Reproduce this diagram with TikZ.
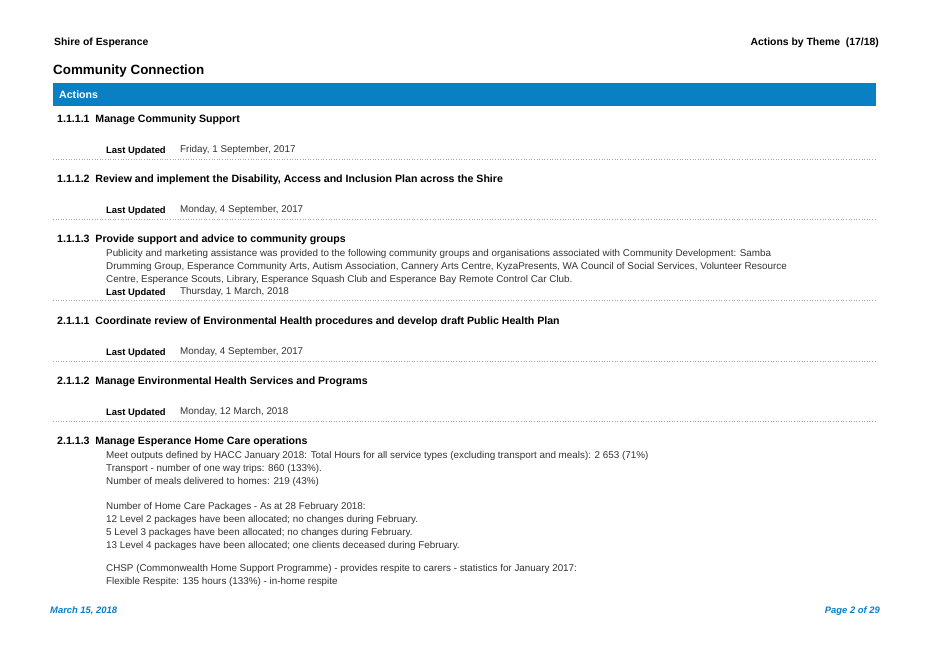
\documentclass[tikz,border=0pt]{standalone}
\usepackage{fontspec}
\setmainfont{Liberation Sans}
\definecolor{barblue}{HTML}{0A80C4}
\definecolor{txt}{HTML}{333333}
\begin{document}
\begin{tikzpicture}[x=1pt,y=-1pt,
  lbl/.style={anchor=base west,inner sep=0pt,font=\fontsize{10.6}{12}\selectfont\bfseries},
  body/.style={anchor=base west,inner sep=0pt,font=\fontsize{9.85}{11}\selectfont,text=txt},
  upd/.style={anchor=base west,inner sep=0pt,font=\fontsize{9.4}{10}\selectfont\bfseries},
  sep/.style={draw=gray!70,line width=0.6pt,dotted},
  foot/.style={inner sep=0pt,font=\fontsize{9.4}{10}\selectfont\bfseries\itshape,text=barblue}]
\useasboundingbox (0,0) rectangle (928,657);
\fill[white] (0,0) rectangle (928,657);
\node[lbl,font=\fontsize{10.4}{12}\selectfont\bfseries] (h1) at (54,45) {Shire of Esperance};
\node[lbl,anchor=base east,font=\fontsize{10.4}{12}\selectfont\bfseries] (h2) at (879,45) {Actions by Theme \ (17/18)};
\node[anchor=base west,inner sep=0pt,font=\fontsize{13.4}{15}\selectfont\bfseries] (ttl) at (53,74) {Community Connection};
\fill[barblue] (53,83) rectangle (876,106);
\node[lbl,text=white] (act) at (59,98) {Actions};
% items
\node[lbl] (a1) at (57,122) {1.1.1.1\ \ Manage Community Support};
\node[upd] (u1) at (106,153) {Last Updated};
\node[body] (d1) at (180,152) {Friday, 1 September, 2017};
\draw[sep] (53,159) -- (876,159);
\node[lbl] (a2) at (57,182) {1.1.1.2\ \ Review and implement the Disability, Access and Inclusion Plan across the Shire};
\node[upd] (u2) at (106,213) {Last Updated};
\node[body] (d2) at (180,212) {Monday, 4 September, 2017};
\draw[sep] (53,219) -- (876,219);
\node[lbl] (a3) at (57,242) {1.1.1.3\ \ Provide support and advice to community groups};
\node[body] (t31) at (106,256) {Publicity and marketing assistance was provided to the following community groups and organisations associated with Community Development: Samba};
\node[body] (t32) at (106,269) {Drumming Group, Esperance Community Arts, Autism Association, Cannery Arts Centre, KyzaPresents, WA Council of Social Services, Volunteer Resource};
\node[body] (t33) at (106,282) {Centre, Esperance Scouts, Library, Esperance Squash Club and Esperance Bay Remote Control Car Club.};
\node[upd] (u3) at (106,295) {Last Updated};
\node[body] (d3) at (180,294) {Thursday, 1 March, 2018};
\draw[sep] (53,300) -- (876,300);
\node[lbl] (a4) at (57,324) {2.1.1.1\ \ Coordinate review of Environmental Health procedures and develop draft Public Health Plan};
\node[upd] (u4) at (106,355) {Last Updated};
\node[body] (d4) at (180,354) {Monday, 4 September, 2017};
\draw[sep] (53,361) -- (876,361);
\node[lbl] (a5) at (57,384) {2.1.1.2\ \ Manage Environmental Health Services and Programs};
\node[upd] (u5) at (106,415) {Last Updated};
\node[body] (d5) at (180,414) {Monday, 12 March, 2018};
\draw[sep] (53,421) -- (876,421);
\node[lbl] (a6) at (57,444) {2.1.1.3\ \ Manage Esperance Home Care operations};
\node[body] (t61) at (106,458) {Meet outputs defined by HACC January 2018: Total Hours for all service types (excluding transport and meals): 2 653 (71\%)};
\node[body] (t62) at (106,471) {Transport - number of one way trips: 860 (133\%).};
\node[body] (t63) at (106,484) {Number of meals delivered to homes: 219 (43\%)};
\node[body] (t64) at (106,509) {Number of Home Care Packages - As at 28 February 2018:};
\node[body] (t65) at (106,522) {12 Level 2 packages have been allocated; no changes during February.};
\node[body] (t66) at (106,535) {5 Level 3 packages have been allocated; no changes during February.};
\node[body] (t67) at (106,548) {13 Level 4 packages have been allocated; one clients deceased during February.};
\node[body] (t68) at (106,571) {CHSP (Commonwealth Home Support Programme) - provides respite to carers - statistics for January 2017:};
\node[body] (t69) at (106,584) {Flexible Respite: 135 hours (133\%) - in-home respite};
\node[foot,anchor=base west] (f1) at (50,613) {March 15, 2018};
\node[foot,anchor=base east] (f2) at (880,613) {Page 2 of 29};
\end{tikzpicture}
\end{document}
